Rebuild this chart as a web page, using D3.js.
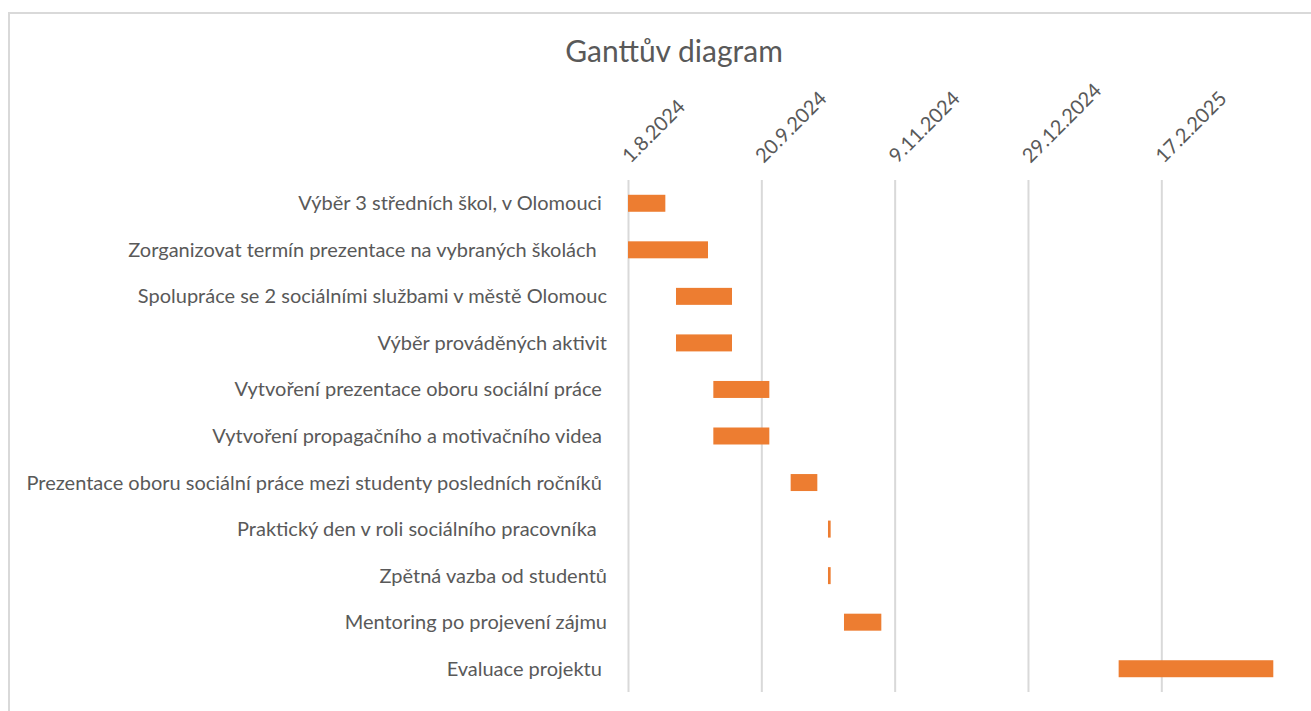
<!DOCTYPE html>
<html>
<head>
<meta charset="utf-8">
<script src="https://cdn.jsdelivr.net/npm/d3@7"></script>
<style>
  body { margin: 0; background: #fff; }
  text { font-family: Lato, "Open Sans", sans-serif; fill: #595959; }
</style>
</head>
<body>
<svg width="1311" height="711"></svg>
<script>
const width = 1311;
const height = 711;

// Tasks (labels keep the trailing spaces from the sheet)
const tasks = [
  "Výběr 3 středních škol, v Olomouci ",
  "Zorganizovat termín prezentace na vybraných školách  ",
  "Spolupráce se 2 sociálními službami v městě Olomouc",
  "Výběr prováděných aktivit",
  "Vytvoření prezentace oboru sociální práce ",
  "Vytvoření propagačního a motivačního videa ",
  "Prezentace oboru sociální práce mezi studenty posledních ročníků ",
  "Praktický den v roli sociálního pracovníka  ",
  "Zpětná vazba od studentů",
  "Mentoring po projevení zájmu",
  "Evaluace projektu "
];

// Start dates and durations (days)
const startDates = [
  "2024-08-01", "2024-08-01", "2024-08-19", "2024-08-19", "2024-09-02", "2024-09-02",
  "2024-10-01", "2024-10-15", "2024-10-15", "2024-10-21", "2025-02-01"
];
const durations = [14, 30, 21, 21, 21, 21, 10, 1, 1, 14, 58];

// Axis ticks (every 50 days)
const tickDates = ["2024-08-01", "2024-09-20", "2024-11-09", "2024-12-29", "2025-02-17"];
const axisEnd = "2025-04-09";

const parse = d3.utcParse("%Y-%m-%d");
const fmt = d3.utcFormat("%-d.%-m.%Y");
const DAY = 864e5;

const data = tasks.map((t, i) => {
  const s = parse(startDates[i]);
  return { task: t, start: s, end: new Date(+s + durations[i] * DAY) };
});

const svg = d3.select("svg");

// chart border (right and bottom fall outside the picture)
svg.append("rect")
  .attr("x", 9).attr("y", 13)
  .attr("width", 1400).attr("height", 800)
  .attr("fill", "#fff")
  .attr("stroke", "#d9d9d9")
  .attr("stroke-width", 2);

const plotTop = 180, plotBottom = 692;

const x = d3.scaleUtc()
  .domain([parse(tickDates[0]), parse(axisEnd)])
  .range([628, 1297.3]);

const y = d3.scaleBand()
  .domain(tasks)
  .range([plotTop, plotBottom])
  .paddingInner(0.635)
  .paddingOuter(0.3175);

// Title
svg.append("text")
  .attr("x", 674).attr("y", 62)
  .attr("text-anchor", "middle")
  .style("font-size", "30px")
  .text("Ganttův diagram");

// Top axis with gridlines
const xAxis = svg.append("g")
  .attr("transform", `translate(0,${plotTop})`)
  .call(d3.axisTop(x)
    .tickValues(tickDates.map(parse))
    .tickFormat(fmt)
    .tickSize(-(plotBottom - plotTop))
    .tickPadding(0));

xAxis.select(".domain").remove();
xAxis.selectAll(".tick line")
  .attr("stroke", "#d9d9d9")
  .attr("stroke-width", 2);
xAxis.selectAll(".tick text")
  .attr("y", 0)
  .attr("text-anchor", "start")
  .attr("transform", "translate(2,-16) rotate(-45)")
  .style("font-size", "20px")
  .style("fill", "#595959");

// Category labels
svg.append("g")
  .selectAll("text")
  .data(tasks)
  .enter()
  .append("text")
  .attr("x", 607)
  .attr("y", d => y(d) + y.bandwidth() / 2)
  .attr("dy", "0.35em")
  .attr("text-anchor", "end")
  .style("font-size", "20px")
  .style("white-space", "pre")
  .attr("xml:space", "preserve")
  .text(d => d);

// Bars
svg.append("g")
  .selectAll("rect")
  .data(data)
  .enter()
  .append("rect")
  .attr("x", d => x(d.start))
  .attr("y", d => y(d.task))
  .attr("width", d => x(d.end) - x(d.start))
  .attr("height", y.bandwidth())
  .attr("fill", "#ed7d31");
</script>
</body>
</html>
